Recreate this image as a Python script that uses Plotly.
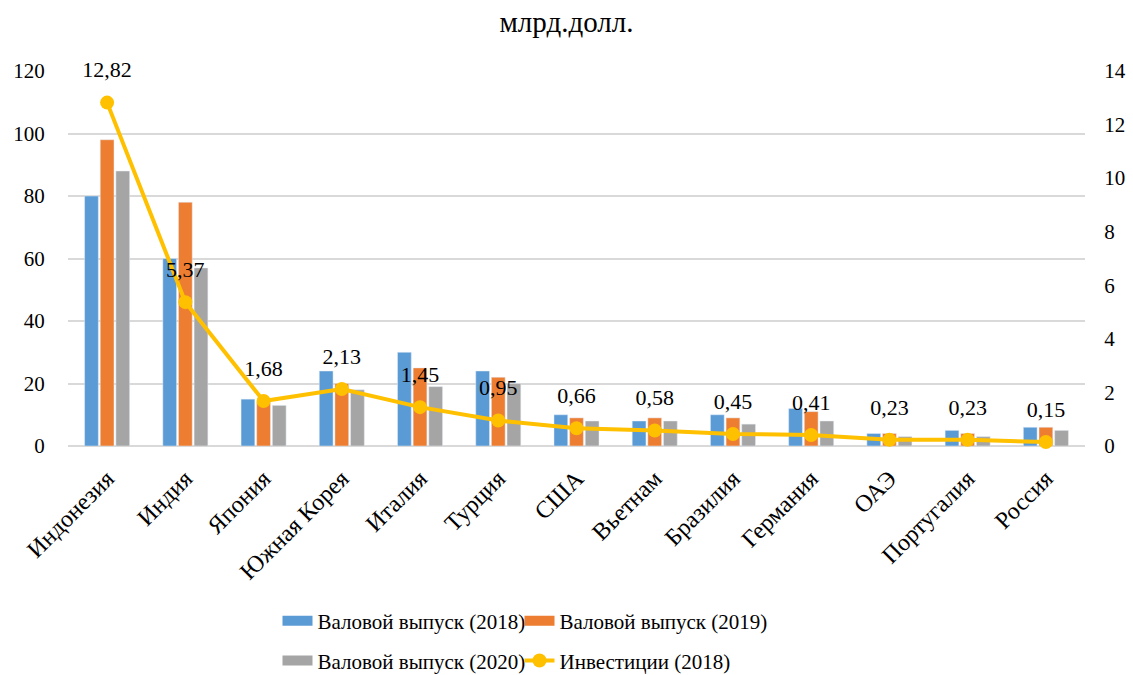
import plotly.graph_objects as go

categories = ["Индонезия", "Индия", "Япония", "Южная Корея", "Италия", "Турция", "США",
              "Вьетнам", "Бразилия", "Германия", "ОАЭ", "Португалия", "Россия"]
output_2018 = [80, 60, 15, 24, 30, 24, 10, 8, 10, 12, 4, 5, 6]
output_2019 = [98, 78, 14, 20, 25, 22, 9, 9, 9, 11, 4, 4, 6]
output_2020 = [88, 57, 13, 18, 19, 20, 8, 8, 7, 8, 3, 3, 5]
invest_2018 = [12.82, 5.37, 1.68, 2.13, 1.45, 0.95, 0.66, 0.58, 0.45, 0.41, 0.23, 0.23, 0.15]
invest_labels = [f"{v:.2f}".replace(".", ",") for v in invest_2018]

bar_names = ["Валовой выпуск (2018)", "Валовой выпуск (2019)", "Валовой выпуск (2020)"]
bar_colors = ["#5B9BD5", "#ED7D31", "#A5A5A5"]
line_name = "Инвестиции (2018)"
line_color = "#FFC000"

FONT = "Liberation Serif"
FS = 21

fig = go.Figure()
for vals, name, col in zip([output_2018, output_2019, output_2020], bar_names, bar_colors):
    fig.add_trace(go.Bar(x=categories, y=vals, name=name, marker_color=col, showlegend=False))

fig.add_trace(go.Scatter(x=categories, y=invest_2018, name=line_name,
                         mode="lines+markers", yaxis="y2", cliponaxis=False,
                         line=dict(color=line_color, width=4),
                         marker=dict(color=line_color, size=14),
                         showlegend=False))
# data labels (transparent larger markers give the label a bit more clearance)
fig.add_trace(go.Scatter(x=categories, y=invest_2018, name=line_name,
                         mode="markers+text", yaxis="y2", cliponaxis=False,
                         marker=dict(color="rgba(0,0,0,0)", size=30),
                         text=invest_labels, textposition="top center",
                         textfont=dict(size=22, color="#000000", family=FONT),
                         showlegend=False, hoverinfo="skip"))

# legend-only entries (wide swatches like the original)
legend_map = ["legend", "legend", "legend2"]
first_in_row = [True, False, True]
for name, col, lg, first in zip(bar_names, bar_colors, legend_map, first_in_row):
    fig.add_trace(go.Scatter(x=[None], y=[None], name=name, mode="lines",
                             line=dict(color=col, width=12), legend=lg, hoverinfo="skip",
                             legendwidth=197 if first else None))
fig.add_trace(go.Scatter(x=[None], y=[None], name=line_name, mode="lines+markers",
                         line=dict(color=line_color, width=4),
                         marker=dict(color=line_color, size=14), legend="legend2",
                         hoverinfo="skip"))

fig.update_layout(
    width=1133, height=675,
    paper_bgcolor="white", plot_bgcolor="white",
    font=dict(family=FONT, size=FS, color="#000000"),
    title=dict(text="млрд.долл.", x=0.5, xanchor="center", y=0.968, yanchor="middle",
               font=dict(size=29, family=FONT, color="#000000")),
    margin=dict(l=68, r=48, t=71, b=229, autoexpand=False),
    barmode="group", bargap=0.4, bargroupgap=0.12,
    xaxis=dict(range=[-0.5, len(categories) - 0.5], tickangle=-45, showgrid=False,
               showline=False, ticks="outside", ticklen=8, tickcolor="rgba(0,0,0,0)",
               automargin=False, tickfont=dict(size=24, family=FONT)),
    yaxis=dict(range=[0, 120], dtick=20, showgrid=True, gridcolor="#D9D9D9", gridwidth=1.5,
               zeroline=True, zerolinecolor="#D9D9D9", zerolinewidth=1.5, automargin=False,
               showline=False, ticks="outside", ticklen=18, tickcolor="rgba(0,0,0,0)",
               tickfont=dict(size=FS, family=FONT)),
    yaxis2=dict(range=[0, 14], dtick=2, overlaying="y", side="right", showgrid=False,
                zeroline=False, showline=False, automargin=False,
                ticks="outside", ticklen=14, tickcolor="rgba(0,0,0,0)",
                tickfont=dict(size=FS, family=FONT)),
    legend=dict(orientation="h", x=0.206, xanchor="left", y=-0.467, yanchor="middle",
                font=dict(size=FS, family=FONT), bgcolor="rgba(0,0,0,0)", traceorder="normal"),
    legend2=dict(orientation="h", x=0.206, xanchor="left", y=-0.573, yanchor="middle",
                 font=dict(size=FS, family=FONT), bgcolor="rgba(0,0,0,0)", traceorder="normal"),
)

fig.write_html("out.html", config={"displayModeBar": False},
               post_script="document.body.style.margin='0px';")
